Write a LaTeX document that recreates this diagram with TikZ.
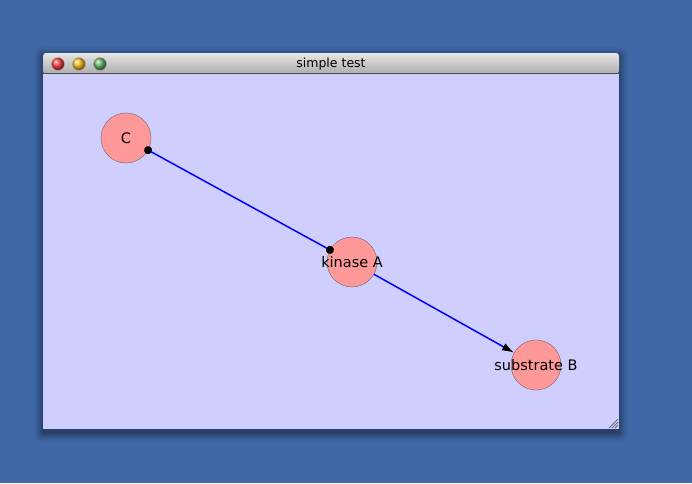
\documentclass[tikz,border=0pt]{standalone}
\usepackage{fontspec}
\setmainfont{DejaVu Sans}
\usetikzlibrary{arrows.meta}
\definecolor{desk}{HTML}{4068A8}
\definecolor{canvas}{HTML}{CFCEFF}
\definecolor{nodefill}{HTML}{FF9999}
\newcommand{\molname}[1]{\makebox[0pt]{\raisebox{-1pt}{#1}}}
\begin{document}
\begin{tikzpicture}[x=1pt, y=-1pt,
    molecule/.style={circle, draw=gray!80!black, fill=nodefill, minimum size=50pt, inner sep=0pt, font=\fontsize{14.5}{16}\selectfont},
    light/.style={circle, minimum size=13pt, inner sep=0pt, draw=gray!60, line width=0.4pt},
    link/.style={blue, line width=1.5pt}
]
% Desktop and window
\fill[desk] (0,0) rectangle (692,483);
\foreach \s/\o in {9/0.04, 7/0.06, 5/0.08, 3/0.10, 1/0.14}
  \fill[black, opacity=\o, rounded corners=\s pt] (43-\s,56-\s) rectangle (619+\s,433+\s);
\fill[canvas] (43,74) rectangle (619,429);
\shade[top color=gray!20, bottom color=gray!65, rounded corners=3pt] (43,53) rectangle (619,74);
\draw[black!70, line width=1pt] (43,73.5) -- (619,73.5);
\node[font=\fontsize{12.5}{14}\selectfont] (title) at (331,64) {simple test};

% Window buttons
\node[light, ball color=red!75!white] (close) at (58,64) {};
\node[light, ball color=orange!60!yellow!85!white] (mini) at (79,64) {};
\node[light, ball color=green!55!black!60!white] (zoom) at (100,64) {};

% Resize grip
\foreach \d in {3,6,9}
  \draw[gray!70!black, line width=0.7pt] (618-\d,428) -- (618,428-\d);

% Molecules
\node[molecule] (c) at (126,138) {\molname{C}};
\node[molecule] (kinA) at (352,262) {\molname{kinase A}};
\node[molecule] (subB) at (536,365) {\molname{substrate B}};

% Interactions
\draw[link, {Circle[black, length=8pt]}-{Circle[black, length=8pt]}, shorten <=-4pt, shorten >=-4pt] (c) -- (kinA);
\draw[link, -{Latex[black, length=12pt, width=8pt]}] (kinA) -- (subB);
\end{tikzpicture}
\end{document}
